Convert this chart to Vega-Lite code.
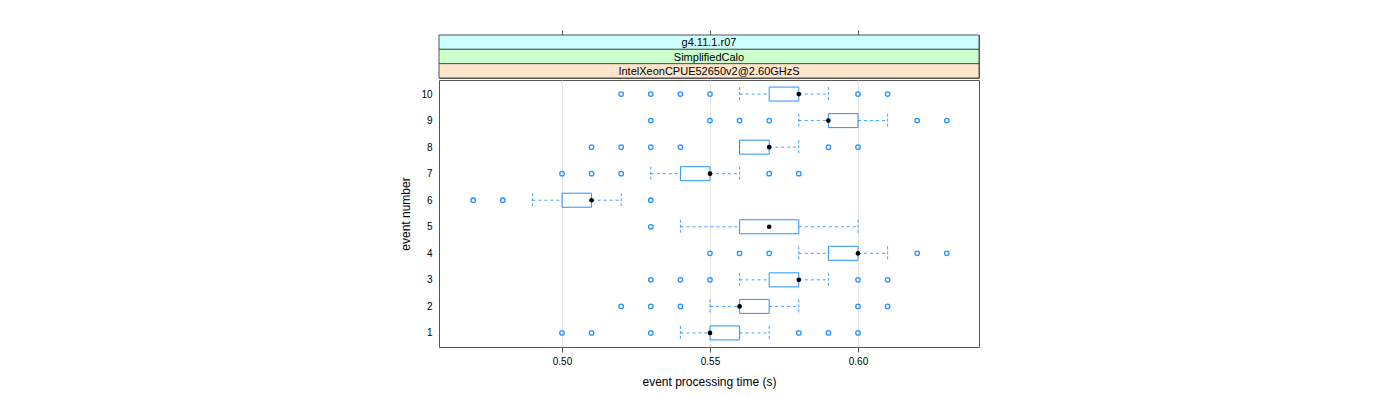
{
  "$schema": "https://vega.github.io/schema/vega-lite/v6.json",
  "padding": {"left": 399, "top": 29, "right": 5, "bottom": 5},
  "spacing": 0,
  "config": {
    "font": "Liberation Sans",
    "view": {"stroke": "#555555", "strokeWidth": 1},
    "axis": {"labelFont": "Liberation Sans", "titleFont": "Liberation Sans", "labelColor": "#000000", "titleColor": "#000000", "titleFontWeight": "normal", "tickColor": "#555555"}
  },
  "datasets": {
    "strips": [
      {"label": "g4.11.1.r07", "level": 1},
      {"label": "SimplifiedCalo", "level": 2},
      {"label": "IntelXeonCPUE52650v2@2.60GHzS", "level": 3}
    ],
    "stats": [
      {"event": 10, "lo": 0.56, "q1": 0.57, "med": 0.58, "q3": 0.58, "hi": 0.59},
      {"event": 9, "lo": 0.58, "q1": 0.59, "med": 0.59, "q3": 0.60, "hi": 0.61},
      {"event": 8, "lo": 0.56, "q1": 0.56, "med": 0.57, "q3": 0.57, "hi": 0.58},
      {"event": 7, "lo": 0.53, "q1": 0.54, "med": 0.55, "q3": 0.55, "hi": 0.56},
      {"event": 6, "lo": 0.49, "q1": 0.50, "med": 0.51, "q3": 0.51, "hi": 0.52},
      {"event": 5, "lo": 0.54, "q1": 0.56, "med": 0.57, "q3": 0.58, "hi": 0.60},
      {"event": 4, "lo": 0.58, "q1": 0.59, "med": 0.60, "q3": 0.60, "hi": 0.61},
      {"event": 3, "lo": 0.56, "q1": 0.57, "med": 0.58, "q3": 0.58, "hi": 0.59},
      {"event": 2, "lo": 0.55, "q1": 0.56, "med": 0.56, "q3": 0.57, "hi": 0.58},
      {"event": 1, "lo": 0.54, "q1": 0.55, "med": 0.55, "q3": 0.56, "hi": 0.57}
    ],
    "outliers": [
      {"event": 10, "t": 0.52}, {"event": 10, "t": 0.53}, {"event": 10, "t": 0.54}, {"event": 10, "t": 0.55}, {"event": 10, "t": 0.60}, {"event": 10, "t": 0.61},
      {"event": 9, "t": 0.53}, {"event": 9, "t": 0.55}, {"event": 9, "t": 0.56}, {"event": 9, "t": 0.57}, {"event": 9, "t": 0.62}, {"event": 9, "t": 0.63},
      {"event": 8, "t": 0.51}, {"event": 8, "t": 0.52}, {"event": 8, "t": 0.53}, {"event": 8, "t": 0.54}, {"event": 8, "t": 0.59}, {"event": 8, "t": 0.60},
      {"event": 7, "t": 0.50}, {"event": 7, "t": 0.51}, {"event": 7, "t": 0.52}, {"event": 7, "t": 0.57}, {"event": 7, "t": 0.58},
      {"event": 6, "t": 0.47}, {"event": 6, "t": 0.48}, {"event": 6, "t": 0.53},
      {"event": 5, "t": 0.53},
      {"event": 4, "t": 0.55}, {"event": 4, "t": 0.56}, {"event": 4, "t": 0.57}, {"event": 4, "t": 0.62}, {"event": 4, "t": 0.63},
      {"event": 3, "t": 0.53}, {"event": 3, "t": 0.54}, {"event": 3, "t": 0.55}, {"event": 3, "t": 0.60}, {"event": 3, "t": 0.61},
      {"event": 2, "t": 0.52}, {"event": 2, "t": 0.53}, {"event": 2, "t": 0.54}, {"event": 2, "t": 0.60}, {"event": 2, "t": 0.61},
      {"event": 1, "t": 0.50}, {"event": 1, "t": 0.51}, {"event": 1, "t": 0.53}, {"event": 1, "t": 0.58}, {"event": 1, "t": 0.59}, {"event": 1, "t": 0.60}
    ]
  },
  "vconcat": [
    {
      "width": 540,
      "height": 43,
      "data": {"name": "strips"},
      "layer": [
        {
          "mark": {"type": "rect", "stroke": "#555555", "strokeWidth": 1},
          "encoding": {
            "x": {"datum": 0.45845, "type": "quantitative", "scale": {"domain": [0.45845, 0.64088], "nice": false, "zero": false},
                  "axis": {"orient": "top", "values": [0.5, 0.55, 0.6], "labels": false, "domain": false, "grid": false, "ticks": true, "tickSize": 5, "title": null}},
            "x2": {"datum": 0.64088},
            "y": {"field": "level", "type": "ordinal", "axis": null, "scale": {"paddingInner": 0, "paddingOuter": 0}},
            "fill": {"field": "level", "type": "ordinal", "legend": null, "scale": {"domain": [1, 2, 3], "range": ["#ccffff", "#ccffcc", "#ffe5cc"]}}
          }
        },
        {
          "mark": {"type": "text", "fontSize": 11, "font": "Liberation Sans", "color": "#000000", "baseline": "middle", "dy": 1},
          "encoding": {
            "y": {"field": "level", "type": "ordinal", "axis": null},
            "text": {"field": "label"}
          }
        }
      ]
    },
    {
      "width": 540,
      "height": 267,
      "encoding": {
        "y": {"field": "event", "type": "ordinal", "sort": "descending",
              "scale": {"type": "point", "padding": 0.53},
              "axis": {"title": "event number", "labelFontSize": 10, "titleFontSize": 12, "ticks": false, "labelPadding": 7, "domain": false, "grid": false, "labelAngle": 0, "titlePadding": 8}}
      },
      "layer": [
        {
          "data": {"name": "stats"},
          "mark": {"type": "rule", "color": "#0080ff", "strokeDash": [3, 3], "strokeWidth": 1, "opacity": 0.75},
          "encoding": {
            "x": {"field": "lo", "type": "quantitative", "scale": {"domain": [0.45845, 0.64088], "nice": false, "zero": false},
                  "axis": {"title": "event processing time (s)", "values": [0.5, 0.55, 0.6], "format": ".2f", "labelFontSize": 10, "titleFontSize": 12, "domain": false, "grid": true, "gridColor": "#e6e6e6", "tickSize": 5, "labelPadding": 4, "titlePadding": 10}},
            "x2": {"field": "q1"}
          }
        },
        {
          "data": {"name": "stats"},
          "mark": {"type": "rule", "color": "#0080ff", "strokeDash": [3, 3], "strokeWidth": 1, "opacity": 0.75},
          "encoding": {
            "x": {"field": "q3", "type": "quantitative"},
            "x2": {"field": "hi"}
          }
        },
        {
          "data": {"name": "stats"},
          "mark": {"type": "rule", "color": "#0080ff", "strokeDash": [3, 2], "strokeWidth": 1, "opacity": 0.75, "yOffset": -7, "y2Offset": 7},
          "encoding": {
            "x": {"field": "lo", "type": "quantitative"},
            "y2": {"field": "event"}
          }
        },
        {
          "data": {"name": "stats"},
          "mark": {"type": "rule", "color": "#0080ff", "strokeDash": [3, 2], "strokeWidth": 1, "opacity": 0.75, "yOffset": -7, "y2Offset": 7},
          "encoding": {
            "x": {"field": "hi", "type": "quantitative"},
            "y2": {"field": "event"}
          }
        },
        {
          "data": {"name": "stats"},
          "mark": {"type": "bar", "fill": "transparent", "stroke": "#0080ff", "strokeWidth": 1, "size": 14, "opacity": 0.85},
          "encoding": {
            "x": {"field": "q1", "type": "quantitative"},
            "x2": {"field": "q3"}
          }
        },
        {
          "data": {"name": "outliers"},
          "mark": {"type": "point", "filled": false, "color": "#0080ff", "size": 20, "strokeWidth": 1.3, "opacity": 0.85},
          "encoding": {
            "x": {"field": "t", "type": "quantitative"}
          }
        },
        {
          "data": {"name": "stats"},
          "mark": {"type": "point", "filled": true, "color": "#000000", "size": 22, "opacity": 1},
          "encoding": {
            "x": {"field": "med", "type": "quantitative"}
          }
        }
      ]
    }
  ]
}
